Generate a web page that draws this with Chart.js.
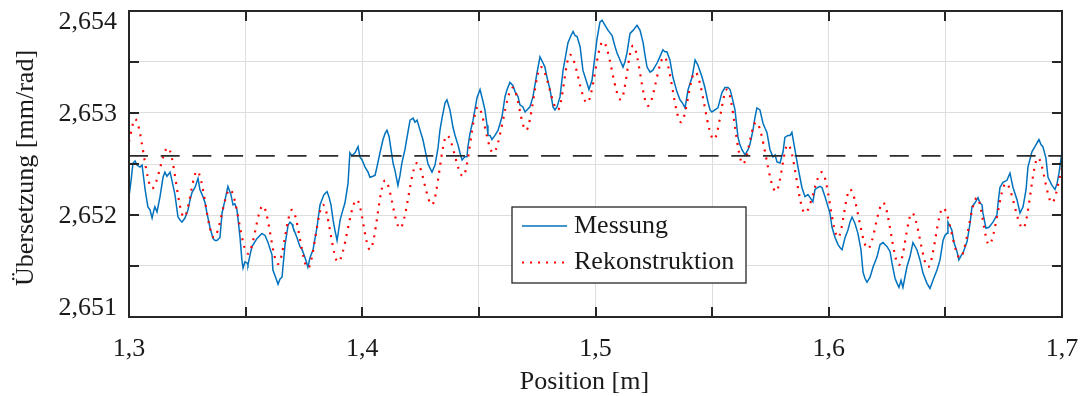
<!DOCTYPE html>
<html lang="de">
<head>
<meta charset="utf-8">
<title>Übersetzung über Position</title>
<script src="https://cdn.jsdelivr.net/npm/chart.js@4.4.1/dist/chart.umd.min.js"></script>
<style>
  html, body { margin: 0; padding: 0; background: #fff; }
  #wrap { position: relative; width: 1082px; height: 396px; }
</style>
</head>
<body>
<div id="wrap"><canvas id="chart"></canvas></div>
<script>
// Messung: Position [m] und Übersetzung [mm/rad]
const messungX = [
  1.3000,1.3009,1.3017,1.3026,1.3034,1.3047,1.3056,1.3069,1.3081,1.3090,
  1.3099,1.3107,1.3111,1.3120,1.3133,1.3146,1.3154,1.3163,1.3176,1.3184,
  1.3197,1.3210,1.3219,1.3227,1.3240,1.3253,1.3262,1.3270,1.3283,1.3296,
  1.3304,1.3317,1.3326,1.3334,1.3347,1.3360,1.3369,1.3377,1.3390,1.3399,
  1.3412,1.3424,1.3437,1.3446,1.3454,1.3463,1.3476,1.3484,1.3489,1.3497,
  1.3506,1.3510,1.3519,1.3527,1.3549,1.3570,1.3583,1.3596,1.3613,1.3617,
  1.3630,1.3639,1.3647,1.3656,1.3669,1.3682,1.3690,1.3699,1.3703,1.3720,
  1.3733,1.3742,1.3755,1.3767,1.3776,1.3789,1.3806,1.3819,1.3836,1.3849,
  1.3857,1.3866,1.3875,1.3883,1.3892,1.3900,1.3905,1.3917,1.3926,1.3939,
  1.3947,1.3956,1.3969,1.3982,1.3990,1.3999,1.4012,1.4025,1.4033,1.4046,
  1.4055,1.4063,1.4076,1.4089,1.4098,1.4106,1.4115,1.4119,1.4132,1.4140,
  1.4153,1.4162,1.4170,1.4183,1.4192,1.4205,1.4218,1.4226,1.4235,1.4248,
  1.4260,1.4269,1.4282,1.4299,1.4312,1.4325,1.4333,1.4342,1.4355,1.4363,
  1.4376,1.4389,1.4398,1.4410,1.4419,1.4428,1.4440,1.4449,1.4453,1.4462,
  1.4475,1.4492,1.4505,1.4518,1.4526,1.4535,1.4539,1.4548,1.4556,1.4569,
  1.4582,1.4599,1.4612,1.4621,1.4633,1.4646,1.4655,1.4668,1.4676,1.4689,
  1.4698,1.4706,1.4719,1.4732,1.4749,1.4762,1.4775,1.4783,1.4792,1.4805,
  1.4818,1.4826,1.4835,1.4848,1.4861,1.4869,1.4882,1.4895,1.4904,1.4912,
  1.4921,1.4934,1.4946,1.4964,1.4972,1.4985,1.4994,1.5006,1.5019,1.5028,
  1.5041,1.5054,1.5071,1.5084,1.5092,1.5105,1.5118,1.5126,1.5135,1.5148,
  1.5161,1.5178,1.5191,1.5204,1.5212,1.5221,1.5234,1.5246,1.5264,1.5276,
  1.5289,1.5298,1.5306,1.5319,1.5332,1.5349,1.5362,1.5375,1.5384,1.5397,
  1.5414,1.5427,1.5439,1.5457,1.5469,1.5482,1.5491,1.5499,1.5512,1.5525,
  1.5542,1.5555,1.5568,1.5577,1.5585,1.5598,1.5611,1.5619,1.5628,1.5641,
  1.5654,1.5662,1.5675,1.5684,1.5692,1.5705,1.5718,1.5727,1.5735,1.5748,
  1.5761,1.5770,1.5778,1.5791,1.5804,1.5812,1.5825,1.5834,1.5842,1.5855,
  1.5868,1.5885,1.5898,1.5911,1.5920,1.5932,1.5941,1.5954,1.5962,1.5971,
  1.5984,1.5997,1.6005,1.6014,1.6027,1.6040,1.6048,1.6057,1.6070,1.6082,
  1.6091,1.6100,1.6112,1.6125,1.6138,1.6147,1.6155,1.6164,1.6177,1.6190,
  1.6207,1.6220,1.6233,1.6241,1.6250,1.6263,1.6271,1.6284,1.6293,1.6301,
  1.6310,1.6318,1.6335,1.6348,1.6361,1.6378,1.6391,1.6404,1.6421,1.6434,
  1.6447,1.6464,1.6477,1.6490,1.6498,1.6507,1.6511,1.6520,1.6528,1.6537,
  1.6550,1.6558,1.6567,1.6576,1.6593,1.6606,1.6614,1.6627,1.6640,1.6648,
  1.6657,1.6661,1.6674,1.6687,1.6704,1.6721,1.6726,1.6734,1.6747,1.6764,
  1.6777,1.6790,1.6807,1.6820,1.6833,1.6846,1.6854,1.6871,1.6884,1.6901,
  1.6910,1.6918,1.6931,1.6940,1.6957,1.6970,1.6979,1.6987,1.7000
];
const messungY = [
  2.65218,2.65234,2.65251,2.65253,2.65249,2.65247,2.65249,2.65225,2.65208,2.65205,
  2.65197,2.65205,2.65208,2.65203,2.65218,2.65237,2.65242,2.65238,2.65242,2.65234,
  2.65220,2.65198,2.65195,2.65193,2.65197,2.65205,2.65215,2.65222,2.65227,2.65236,
  2.65225,2.65218,2.65212,2.65202,2.65188,2.65177,2.65175,2.65175,2.65178,2.65202,
  2.65215,2.65228,2.65220,2.65210,2.65211,2.65205,2.65178,2.65156,2.65148,2.65154,
  2.65153,2.65151,2.65161,2.65169,2.65177,2.65182,2.65180,2.65173,2.65161,2.65146,
  2.65138,2.65132,2.65137,2.65139,2.65171,2.65190,2.65193,2.65191,2.65188,2.65178,
  2.65169,2.65166,2.65158,2.65149,2.65158,2.65166,2.65188,2.65210,2.65220,2.65223,
  2.65218,2.65210,2.65195,2.65185,2.65175,2.65187,2.65195,2.65205,2.65212,2.65231,
  2.65261,2.65258,2.65261,2.65267,2.65257,2.65254,2.65247,2.65242,2.65237,2.65238,
  2.65239,2.65247,2.65261,2.65274,2.65280,2.65283,2.65277,2.65271,2.65251,2.65244,
  2.65229,2.65239,2.65251,2.65264,2.65276,2.65293,2.65295,2.65291,2.65293,2.65283,
  2.65274,2.65264,2.65250,2.65242,2.65249,2.65266,2.65283,2.65295,2.65310,2.65313,
  2.65303,2.65286,2.65278,2.65269,2.65261,2.65254,2.65257,2.65257,2.65267,2.65280,
  2.65293,2.65315,2.65323,2.65311,2.65303,2.65288,2.65278,2.65278,2.65274,2.65278,
  2.65283,2.65296,2.65316,2.65323,2.65330,2.65327,2.65321,2.65316,2.65308,2.65306,
  2.65301,2.65303,2.65306,2.65316,2.65339,2.65355,2.65349,2.65345,2.65335,2.65323,
  2.65306,2.65303,2.65306,2.65316,2.65342,2.65352,2.65369,2.65376,2.65380,2.65376,
  2.65375,2.65365,2.65342,2.65329,2.65323,2.65332,2.65349,2.65372,2.65389,2.65391,
  2.65386,2.65381,2.65376,2.65365,2.65359,2.65352,2.65345,2.65350,2.65359,2.65378,
  2.65381,2.65386,2.65381,2.65369,2.65357,2.65345,2.65340,2.65342,2.65349,2.65355,
  2.65362,2.65360,2.65360,2.65352,2.65335,2.65321,2.65313,2.65309,2.65305,2.65323,
  2.65335,2.65352,2.65347,2.65335,2.65325,2.65311,2.65303,2.65301,2.65303,2.65305,
  2.65320,2.65325,2.65325,2.65323,2.65316,2.65303,2.65276,2.65269,2.65264,2.65259,
  2.65264,2.65269,2.65283,2.65296,2.65305,2.65303,2.65290,2.65285,2.65281,2.65264,
  2.65257,2.65259,2.65252,2.65251,2.65262,2.65276,2.65278,2.65278,2.65281,2.65264,
  2.65247,2.65227,2.65218,2.65220,2.65217,2.65213,2.65225,2.65227,2.65228,2.65227,
  2.65218,2.65208,2.65202,2.65188,2.65178,2.65171,2.65168,2.65166,2.65178,2.65185,
  2.65193,2.65198,2.65192,2.65182,2.65166,2.65144,2.65138,2.65134,2.65139,2.65149,
  2.65159,2.65171,2.65173,2.65171,2.65169,2.65164,2.65153,2.65138,2.65133,2.65129,
  2.65136,2.65129,2.65149,2.65159,2.65173,2.65166,2.65156,2.65143,2.65133,2.65128,
  2.65136,2.65146,2.65156,2.65175,2.65180,2.65182,2.65193,2.65189,2.65185,2.65173,
  2.65164,2.65156,2.65160,2.65163,2.65174,2.65192,2.65208,2.65212,2.65217,2.65212,
  2.65210,2.65202,2.65187,2.65188,2.65193,2.65200,2.65212,2.65227,2.65232,2.65234,
  2.65241,2.65227,2.65215,2.65202,2.65208,2.65225,2.65247,2.65262,2.65267,2.65274,
  2.65269,2.65267,2.65256,2.65237,2.65229,2.65225,2.65231,2.65241,2.65262
];

// Rekonstruktion: Extrema der Welligkeit
const rekonstruktionX = [
  1.3000,1.3026,1.3099,1.3167,1.3236,1.3292,1.3364,1.3433,1.3510,1.3574,
  1.3639,1.3699,1.3767,1.3832,1.3896,1.3977,1.4033,1.4098,1.4162,1.4235,
  1.4299,1.4363,1.4432,1.4496,1.4561,1.4646,1.4702,1.4766,1.4839,1.4891,
  1.4964,1.5032,1.5109,1.5161,1.5225,1.5294,1.5367,1.5427,1.5508,1.5564,
  1.5632,1.5688,1.5774,1.5825,1.5898,1.5971,1.6040,1.6091,1.6168,1.6233,
  1.6301,1.6357,1.6426,1.6490,1.6563,1.6636,1.6687,1.6760,1.6833,1.6897,
  1.6957,1.7000
];
const rekonstruktionY = [
  2.65272,2.65294,2.65226,2.65266,2.65198,2.65243,2.65178,2.65225,2.65162,2.65209,
  2.65152,2.65205,2.65148,2.65210,2.65154,2.65215,2.65166,2.65234,2.65187,2.65251,
  2.65210,2.65278,2.65238,2.65306,2.65261,2.65325,2.65283,2.65345,2.65303,2.65357,
  2.65310,2.65370,2.65313,2.65366,2.65307,2.65355,2.65291,2.65340,2.65274,2.65323,
  2.65250,2.65291,2.65223,2.65269,2.65202,2.65242,2.65178,2.65225,2.65167,2.65212,
  2.65151,2.65202,2.65149,2.65207,2.65158,2.65217,2.65171,2.65231,2.65187,2.65256,
  2.65212,2.65246
];

// horizontale Bezugslinie (Mittelwert)
const mittelwert = 2.65258;

// Achsen
const xBereich = [1.3, 1.7];
const yBereich = [2.651, 2.654];
const xBeschriftet = [1.3, 1.4, 1.5, 1.6, 1.7];
const yBeschriftet = [2.651, 2.652, 2.653, 2.654];

const SCHRIFT = '26px "Liberation Serif", "Times New Roman", serif';
const TINTE = '#262626';
const TEXT = '#1a1a1a';

function komma(v, stellen) {
  return v.toFixed(stellen).replace('.', ',');
}

function punkte(xs, ys) {
  return xs.map((x, i) => ({ x: x, y: ys[i] }));
}

// Rahmen, Ticks nach innen, Beschriftung und Legende
const achsen = {
  id: 'achsen',
  afterDatasetsDraw(chart) {
    const ctx = chart.ctx;
    const a = chart.chartArea;
    const sx = chart.scales.x;
    const sy = chart.scales.y;
    ctx.save();

    ctx.strokeStyle = TINTE;
    ctx.lineWidth = 2;
    ctx.setLineDash([]);
    ctx.beginPath();
    sx.ticks.forEach(t => {
      const px = Math.round(sx.getPixelForValue(t.value));
      ctx.moveTo(px, a.bottom); ctx.lineTo(px, a.bottom - 10);
      ctx.moveTo(px, a.top); ctx.lineTo(px, a.top + 10);
    });
    sy.ticks.forEach(t => {
      const py = Math.round(sy.getPixelForValue(t.value));
      ctx.moveTo(a.left, py); ctx.lineTo(a.left + 10, py);
      ctx.moveTo(a.right, py); ctx.lineTo(a.right - 10, py);
    });
    ctx.stroke();
    ctx.strokeRect(a.left, a.top, a.right - a.left, a.bottom - a.top);

    ctx.fillStyle = TEXT;
    ctx.font = SCHRIFT;

    ctx.textAlign = 'center';
    ctx.textBaseline = 'alphabetic';
    xBeschriftet.forEach(v => {
      ctx.fillText(komma(v, 1), sx.getPixelForValue(v), a.bottom + 39);
    });

    ctx.textAlign = 'right';
    ctx.textBaseline = 'middle';
    yBeschriftet.forEach(v => {
      let py = sy.getPixelForValue(v) + 1.5;
      py = Math.min(Math.max(py, a.top + 11), a.bottom - 9);
      ctx.fillText(komma(v, 3), a.left - 12, py);
    });

    ctx.textAlign = 'center';
    ctx.textBaseline = 'alphabetic';
    ctx.fillText('Position [m]', (a.left + a.right) / 2 - 11, a.bottom + 72);

    ctx.save();
    ctx.translate(32.5, (a.top + a.bottom) / 2 + 4);
    ctx.rotate(-Math.PI / 2);
    ctx.fillText('Übersetzung [mm/rad]', 0, 0);
    ctx.restore();

    // Legende
    const lx = a.left + 383, ly = a.top + 196, lw = 234, lh = 76;
    ctx.fillStyle = '#ffffff';
    ctx.fillRect(lx, ly, lw, lh);
    ctx.strokeStyle = TINTE;
    ctx.lineWidth = 1.3;
    ctx.strokeRect(lx, ly, lw, lh);
    const eintraege = chart.data.datasets.filter(d => d.legende);
    eintraege.forEach((d, i) => {
      const yy = ly + 19 + i * 36.5;
      ctx.strokeStyle = d.borderColor;
      ctx.lineWidth = d.borderWidth;
      ctx.setLineDash(d.borderDash || []);
      ctx.beginPath();
      ctx.moveTo(lx + 10, yy);
      ctx.lineTo(lx + 55, yy);
      ctx.stroke();
      ctx.setLineDash([]);
      ctx.fillStyle = TEXT;
      ctx.textAlign = 'left';
      ctx.textBaseline = 'middle';
      ctx.fillText(d.label, lx + 62, yy);
    });

    ctx.restore();
  }
};

new Chart(document.getElementById('chart'), {
  type: 'line',
  data: {
    datasets: [
      {
        label: 'Mittelwert',
        data: [{ x: xBereich[0], y: mittelwert }, { x: xBereich[1], y: mittelwert }],
        borderColor: '#2b2b2b',
        borderWidth: 1.6,
        borderDash: [19, 12.7],
        pointRadius: 0,
        order: 0
      },
      {
        label: 'Messung',
        legende: true,
        data: punkte(messungX, messungY),
        borderColor: '#0072BD',
        borderWidth: 1.5,
        pointRadius: 0,
        tension: 0,
        order: 2
      },
      {
        label: 'Rekonstruktion',
        legende: true,
        data: punkte(rekonstruktionX, rekonstruktionY),
        borderColor: '#ff0000',
        borderWidth: 2.2,
        borderDash: [2, 6],
        pointRadius: 0,
        cubicInterpolationMode: 'monotone',
        order: 1
      }
    ]
  },
  options: {
    responsive: true,
    maintainAspectRatio: false,
    animation: false,
    events: [],
    layout: { padding: { top: 11, right: 20, left: 0, bottom: 0 } },
    plugins: {
      legend: { display: false },
      tooltip: { enabled: false },
      title: { display: false }
    },
    scales: {
      x: {
        type: 'linear',
        min: xBereich[0],
        max: xBereich[1],
        ticks: { display: false, stepSize: 0.05 },
        grid: { color: '#dedede', lineWidth: 1, drawTicks: false },
        border: { display: false },
        afterFit(s) { s.height = 79; }
      },
      y: {
        type: 'linear',
        min: yBereich[0],
        max: yBereich[1],
        ticks: { display: false, stepSize: 0.0005 },
        grid: { color: '#dedede', lineWidth: 1, drawTicks: false },
        border: { display: false },
        afterFit(s) { s.width = 129; }
      }
    }
  },
  plugins: [achsen]
});
</script>
</body>
</html>
